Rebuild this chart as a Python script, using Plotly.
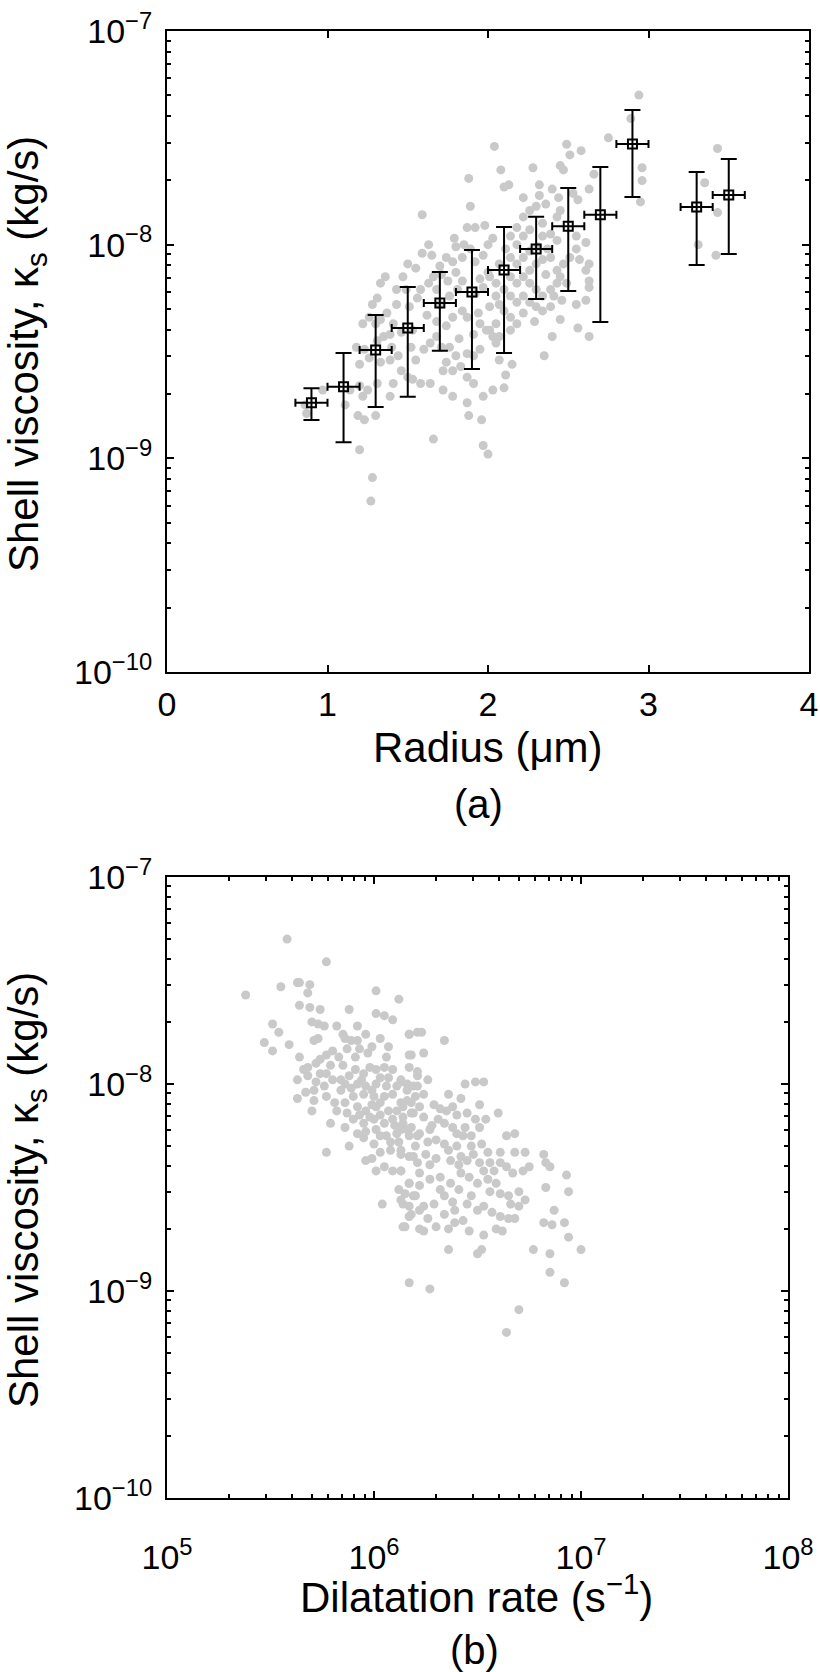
import numpy as np
import plotly.graph_objects as go

# ---- panel (a): shell viscosity vs radius ----
# radius in um, log10 of kappa_s expressed in units of 1e-9 kg/s
radius_a = [
    1.88, 1.89, 1.59, 1.87, 1.92, 1.98, 2.03, 1.79, 1.80, 1.63,
    1.59, 1.65, 1.74, 1.78, 1.84, 1.89, 1.50, 1.55, 1.36, 1.33,
    1.66, 1.63, 1.80, 1.84, 1.95, 2.00, 1.75, 1.68, 1.58, 1.56,
    1.43, 1.28, 1.31, 1.26, 1.22, 1.30, 1.33, 1.37, 1.41, 1.46,
    1.39, 1.35, 1.31, 1.18, 1.23, 1.26, 1.20, 1.33, 1.39, 1.44,
    1.46, 1.50, 1.53, 1.58, 1.64, 1.60, 1.64, 1.68, 1.74, 1.78,
    1.84, 1.87, 1.95, 1.99, 2.03, 2.05, 1.95, 1.91, 1.87, 1.80,
    1.74, 1.72, 1.78, 1.83, 1.87, 1.91, 1.72, 1.78, 1.87, 1.97,
    2.03, 1.41, 1.39, 1.31, 1.25, 1.20, 1.14, 1.22, 1.19, 1.23,
    1.30, 1.11, 0.87, 0.86, 0.97, 1.66, 1.97, 2.00, 1.20, 1.28,
    1.88, 1.96, 1.27,
    2.94, 2.89, 2.75, 2.04, 2.49, 2.58, 2.51, 2.45, 2.47, 2.08,
    2.28, 2.96, 2.96, 2.95, 2.13, 2.10, 2.22, 2.32, 2.40, 2.44,
    2.53, 2.56, 2.66, 2.63, 2.32, 2.36, 2.26, 2.30, 2.22, 2.18,
    2.14, 2.22, 2.26, 2.34, 2.43, 2.45, 2.39, 2.34, 2.43, 2.55,
    2.61, 2.55, 2.51, 2.57, 2.63, 2.61, 2.63, 2.63, 2.47, 2.43,
    2.39, 2.34, 2.30, 2.26, 2.22, 2.18, 2.14, 2.22, 2.18, 2.14,
    2.26, 2.30, 2.34, 2.39, 2.43, 2.45, 2.49, 2.46, 2.39, 2.34,
    2.30, 2.26, 2.22, 2.18, 2.14, 2.10, 2.05, 2.01, 2.05, 2.01,
    2.10, 2.14, 2.18, 2.05, 2.01, 2.07, 2.14, 2.45, 2.40, 2.56,
    2.63, 2.55, 2.61, 2.35, 2.07, 2.15, 2.11, 2.10,
    3.43, 3.35, 3.43, 3.31, 3.42,
    1.70, 1.70, 1.76, 1.81, 1.92, 1.97, 1.92, 1.97, 2.00, 1.85,
    1.71, 1.62, 1.68, 1.71, 1.76, 1.82, 1.91, 1.94, 2.07, 2.07,
    2.11, 2.18, 2.26, 2.31, 2.37, 2.36, 2.41, 2.29, 2.22, 1.53,
    1.51, 1.49, 1.43, 1.47, 1.40, 1.55, 1.52,
]
log_kappa_a = [
    1.31, 1.18, 1.14, 1.08, 1.08, 1.09, 1.03, 1.03, 0.99, 1.00,
    0.96, 0.95, 0.94, 0.92, 0.94, 0.98, 0.91, 0.89, 0.85, 0.82,
    0.85, 0.82, 0.87, 0.83, 0.84, 0.87, 0.83, 0.79, 0.79, 0.75,
    0.72, 0.72, 0.75, 0.66, 0.63, 0.63, 0.65, 0.68, 0.63, 0.59,
    0.58, 0.57, 0.55, 0.52, 0.51, 0.47, 0.44, 0.45, 0.46, 0.48,
    0.41, 0.38, 0.37, 0.35, 0.35, 0.51, 0.54, 0.57, 0.62, 0.66,
    0.69, 0.66, 0.63, 0.60, 0.57, 0.54, 0.51, 0.48, 0.49, 0.48,
    0.45, 0.41, 0.41, 0.43, 0.38, 0.35, 0.32, 0.29, 0.26, 0.29,
    0.32, 0.35, 0.29, 0.35, 0.32, 0.34, 0.32, 0.29, 0.20, 0.18,
    0.20, 0.25, 0.21, 0.25, 0.32, 0.09, 0.06, 0.02, 0.04, -0.09,
    0.20, 0.18, -0.20,
    1.70, 1.59, 1.50, 1.46, 1.47, 1.44, 1.42, 1.37, 1.35, 1.35,
    1.36, 1.36, 1.30, 1.20, 1.28, 1.27, 1.22, 1.28, 1.26, 1.22,
    1.24, 1.21, 1.33, 1.26, 1.23, 1.19, 1.16, 1.18, 1.13, 1.08,
    1.04, 1.04, 1.07, 1.10, 1.13, 1.16, 1.05, 1.04, 1.02, 1.04,
    1.01, 0.98, 0.94, 0.93, 0.91, 0.88, 0.83, 0.80, 0.91, 0.88,
    0.94, 0.93, 0.91, 0.88, 0.94, 0.91, 0.94, 0.85, 0.82, 0.85,
    0.82, 0.79, 0.76, 0.79, 0.82, 0.85, 0.82, 0.74, 0.71, 0.69,
    0.71, 0.73, 0.76, 0.73, 0.76, 0.79, 0.82, 0.85, 0.76, 0.71,
    0.69, 0.66, 0.63, 0.63, 0.60, 0.57, 0.60, 0.65, 0.57, 0.61,
    0.57, 0.72, 0.74, 0.48, 0.46, 0.44, 0.39, 0.33,
    1.45, 1.29, 1.15, 1.00, 0.95,
    0.90, 0.72, 0.76, 0.79, 0.77, 0.80, 0.92, 0.95, 1.00, 1.00,
    0.86, 0.67, 0.64, 0.52, 0.52, 0.56, 0.58, 0.68, 0.72, 0.91,
    0.98, 1.00, 0.97, 0.99, 0.98, 0.86, 0.76, 0.64, 0.68, 0.60,
    0.71, 0.79, 0.79, 0.85, 0.52, 0.46, 0.52,
]

# binned means with spread (units of 1e-9 kg/s), bin half-width 0.1 um
bin_radius = [0.9, 1.1, 1.3, 1.5, 1.7, 1.9, 2.1, 2.3, 2.5, 2.7, 2.9, 3.3, 3.5]
bin_kappa = [1.82, 2.16, 3.21, 4.07, 5.33, 6.01, 7.62, 9.55, 12.2, 13.8, 29.6, 15.0, 17.1]
bin_upper = [2.13, 3.11, 4.69, 6.34, 7.45, 9.44, 12.1, 13.5, 18.4, 23.1, 42.7, 21.9, 25.2]
bin_lower = [1.51, 1.19, 1.74, 1.94, 3.19, 2.62, 3.11, 5.57, 6.07, 4.35, 16.7, 8.04, 9.04]
bin_halfwidth = 0.1

# ---- panel (b): shell viscosity vs dilatation rate ----
# log10 of dilatation rate (1/s), log10 of kappa_s in units of 1e-9 kg/s
log_rate_b = [
    5.77, 5.38, 5.55, 5.63, 5.64, 5.69, 5.68, 5.64, 5.69, 5.74,
    5.88, 6.01, 6.12, 6.01, 6.05, 6.09, 5.70, 5.73, 5.76, 5.51,
    5.54, 5.47, 5.51, 5.59, 5.64, 5.71, 5.73, 5.82, 5.85, 5.86,
    5.92, 5.96, 5.92, 5.87, 5.91, 5.93, 5.97, 6.03, 6.07, 6.06,
    6.17, 6.17, 6.21, 5.68, 5.72, 5.74, 5.77, 5.79, 5.83, 5.66,
    5.63, 5.68, 5.72, 5.74, 5.80, 5.76, 5.71, 5.67, 5.63, 5.71,
    5.77, 5.81, 5.84, 5.86, 5.88, 5.91, 5.95, 5.98, 6.01, 6.05,
    6.09, 6.13, 6.16, 6.19, 6.17, 6.21, 5.92, 5.96, 6.01, 6.06,
    6.09, 6.05, 6.00, 5.95, 5.90, 5.86, 5.82, 5.87, 5.92, 5.96,
    6.01, 6.07, 6.13, 6.16, 6.20, 6.22, 6.18, 6.14, 6.09, 6.05,
    6.00, 5.95, 5.90, 5.79, 5.86, 5.92, 5.96, 6.01, 6.06, 6.11,
    6.16, 6.21, 5.88, 5.95, 6.00, 5.77, 5.96, 5.99, 6.03, 6.08,
    6.13, 6.17, 6.21, 6.01, 6.05, 6.09, 6.13, 6.12, 6.15, 6.17,
    6.19, 6.04, 6.14, 6.18, 6.15, 6.22, 6.17, 5.58,
    6.17, 6.23, 6.34, 6.18, 6.24, 6.21, 6.26, 6.13, 6.16, 6.21,
    6.24, 6.44, 6.49, 6.53, 6.36, 6.42, 6.51, 6.60, 6.29, 6.32,
    6.35, 6.40, 6.45, 6.49, 6.54, 6.14, 6.19, 6.24, 6.28, 6.34,
    6.38, 6.43, 6.47, 6.51, 6.13, 6.17, 6.22, 6.30, 6.34, 6.40,
    6.47, 6.52, 6.64, 6.68, 6.61, 6.68, 6.73, 6.82, 6.55, 6.13,
    6.19, 6.25, 6.30, 6.37, 6.42, 6.45, 6.51, 6.56, 6.61, 6.64,
    6.67, 6.72, 6.75, 6.83, 6.85, 6.93, 6.94, 6.83, 6.13, 6.17,
    6.22, 6.27, 6.32, 6.37, 6.42, 6.46, 6.50, 6.55, 6.59, 6.61,
    6.56, 6.65, 6.70, 6.73, 6.70, 6.66, 6.13, 6.17, 6.20, 6.24,
    6.29, 6.34, 6.38, 6.45, 6.50, 6.53, 6.57, 6.61, 6.65, 6.68,
    6.14, 6.17, 6.22, 6.26, 6.30, 6.24, 6.36, 6.39, 6.43, 6.46,
    6.53, 6.59, 6.62, 6.36, 6.50, 6.52, 6.27, 6.77, 6.85, 6.82,
    6.86, 6.92, 6.85, 6.92, 6.70, 6.64, 6.87, 6.94, 7.00,
    5.84, 5.89, 5.94, 5.99, 6.03, 6.07, 6.11, 5.99, 6.03, 6.11,
    6.18, 5.93, 5.98, 6.03, 6.10, 6.14, 6.18, 6.03, 6.08, 6.12,
    6.20, 6.26, 6.27, 6.31, 6.38, 6.40, 6.44, 6.36, 6.41, 6.48,
    6.27, 6.22, 6.32, 6.41, 6.47, 6.39, 6.34, 6.58, 6.53, 5.70,
    5.80, 5.89, 5.99, 5.77, 5.85,
]
log_kappa_b = [
    1.59, 1.43, 1.47, 1.49, 1.49, 1.48, 1.44, 1.38, 1.37, 1.36,
    1.36, 1.45, 1.41, 1.34, 1.33, 1.31, 1.30, 1.29, 1.28, 1.29,
    1.25, 1.20, 1.16, 1.19, 1.13, 1.21, 1.22, 1.28, 1.24, 1.22,
    1.28, 1.24, 1.21, 1.17, 1.13, 1.17, 1.15, 1.22, 1.18, 1.13,
    1.24, 1.14, 1.25, 1.08, 1.10, 1.12, 1.14, 1.09, 1.13, 1.07,
    1.02, 1.04, 1.01, 1.05, 1.02, 0.99, 0.97, 0.96, 0.93, 0.92,
    0.94, 0.91, 0.97, 1.00, 1.04, 1.07, 1.05, 1.08, 1.07, 1.08,
    1.07, 1.02, 1.00, 0.99, 1.08, 1.04, 1.00, 0.99, 1.00, 0.99,
    0.95, 0.94, 0.94, 0.95, 0.94, 0.91, 0.87, 0.86, 0.89, 0.87,
    0.89, 0.87, 0.91, 0.92, 0.94, 0.89, 0.86, 0.84, 0.83, 0.81,
    0.83, 0.81, 0.83, 0.81, 0.79, 0.76, 0.77, 0.78, 0.75, 0.76,
    0.78, 0.75, 0.70, 0.74, 0.71, 0.67, 0.63, 0.64, 0.67, 0.68,
    0.68, 0.65, 0.62, 0.58, 0.60, 0.58, 0.58, 0.49, 0.47, 0.52,
    0.46, 0.42, 0.42, 0.37, 0.31, 0.30, 0.04, 1.70,
    1.24, 1.25, 1.21, 1.14, 1.15, 1.06, 1.02, 1.01, 0.97, 0.99,
    0.95, 1.00, 1.01, 1.01, 0.95, 0.93, 0.90, 0.86, 0.90, 0.88,
    0.87, 0.85, 0.86, 0.83, 0.83, 0.89, 0.86, 0.84, 0.80, 0.81,
    0.79, 0.75, 0.75, 0.79, 0.78, 0.75, 0.76, 0.73, 0.71, 0.70,
    0.70, 0.71, 0.75, 0.76, 0.67, 0.67, 0.67, 0.66, 0.67, 0.66,
    0.65, 0.66, 0.64, 0.63, 0.65, 0.63, 0.62, 0.62, 0.62, 0.60,
    0.57, 0.58, 0.60, 0.62, 0.60, 0.56, 0.48, 0.50, 0.58, 0.52,
    0.57, 0.54, 0.55, 0.52, 0.57, 0.55, 0.52, 0.54, 0.52, 0.47,
    0.48, 0.46, 0.48, 0.44, 0.41, 0.42, 0.44, 0.41, 0.46, 0.41,
    0.42, 0.46, 0.43, 0.42, 0.39, 0.41, 0.38, 0.36, 0.35, 0.35,
    0.31, 0.36, 0.39, 0.35, 0.31, 0.29, 0.30, 0.33, 0.34, 0.29,
    0.27, 0.30, 0.29, 0.20, 0.18, 0.20, 0.01, 0.20, 0.18, 0.33,
    0.32, 0.33, 0.09, 0.04, -0.09, -0.20, 0.39, 0.26, 0.20,
    1.02, 0.98, 1.02, 0.97, 1.03, 1.03, 0.99, 0.90, 0.91, 0.87,
    0.91, 0.85, 0.84, 0.85, 0.80, 0.81, 0.79, 0.75, 0.72, 0.72,
    0.70, 0.72, 0.78, 0.83, 0.89, 0.76, 0.79, 0.68, 0.61, 0.66,
    0.61, 0.51, 0.49, 0.49, 0.46, 0.39, 0.37, 0.58, 0.58, 0.87,
    1.16, 1.21, 1.18, 1.05, 1.09,
]

kappa_ticks = [1e-10, 1e-9, 1e-8, 1e-7]
kappa_ticktext = ["10<sup>\u221210</sup>", "10<sup>\u22129</sup>", "10<sup>\u22128</sup>", "10<sup>\u22127</sup>"]
radius_ticks = [0, 1, 2, 3, 4]
rate_ticks = [1e5, 1e6, 1e7, 1e8]
rate_ticktext = ["10<sup>5</sup>", "10<sup>6</sup>", "10<sup>7</sup>", "10<sup>8</sup>"]

FONT = "Liberation Sans, Arial, Helvetica, sans-serif"
GREY = "#c9c9c9"
W, H = 820, 1672

def minor_vals(lo, hi):
    return [m * 10.0 ** e for e in range(lo, hi) for m in range(2, 10)]

fig = go.Figure()

fig.add_trace(go.Scatter(
    x=radius_a, y=10 ** (np.array(log_kappa_a) - 9), mode="markers",
    marker=dict(color=GREY, size=9, line=dict(width=0)),
    xaxis="x", yaxis="y", showlegend=False))

k = np.array(bin_kappa)
fig.add_trace(go.Scatter(
    x=bin_radius, y=k * 1e-9, mode="markers",
    marker=dict(symbol="square-open", size=9, color="black", line=dict(width=2, color="black")),
    error_y=dict(type="data", symmetric=False, array=(np.array(bin_upper) - k) * 1e-9,
                 arrayminus=(k - np.array(bin_lower)) * 1e-9, color="black", thickness=2, width=8),
    error_x=dict(type="constant", value=bin_halfwidth, color="black", thickness=2, width=4),
    xaxis="x", yaxis="y", showlegend=False))

fig.add_trace(go.Scatter(
    x=10 ** np.array(log_rate_b), y=10 ** (np.array(log_kappa_b) - 9), mode="markers",
    marker=dict(color=GREY, size=9, line=dict(width=0)),
    xaxis="x2", yaxis="y2", showlegend=False))

axis_style = dict(showline=True, linecolor="black", linewidth=2, mirror="allticks",
                  ticks="inside", ticklen=7, tickwidth=2, tickcolor="black",
                  showgrid=False, zeroline=False, automargin=False,
                  tickfont=dict(family=FONT, size=34, color="black"))
minor_style = dict(ticks="inside", ticklen=4, tickwidth=1.5, tickcolor="black", showgrid=False)

fig.update_layout(
    template="none",
    width=W, height=H, margin=dict(l=0, r=0, t=0, b=0, autoexpand=False),
    paper_bgcolor="white", plot_bgcolor="white", showlegend=False,
    xaxis=dict(axis_style, domain=[167 / W, 809 / W], anchor="y", range=[0, 4],
               tickmode="array", tickvals=radius_ticks, ticklabelstandoff=1),
    yaxis=dict(axis_style, domain=[1 - 672 / H, 1 - 31 / H], anchor="x", type="log",
               range=[-10, -7], tickmode="array", tickvals=kappa_ticks, ticktext=kappa_ticktext,
               ticklabelstandoff=6,
               minor=dict(minor_style, tickmode="array", tickvals=minor_vals(-10, -7))),
    xaxis2=dict(axis_style, domain=[167 / W, 788 / W], anchor="y2", type="log", range=[5, 8],
                tickmode="array", tickvals=rate_ticks, ticktext=rate_ticktext, ticklabelstandoff=28,
                minor=dict(minor_style, tickmode="array", tickvals=minor_vals(5, 8))),
    yaxis2=dict(axis_style, domain=[1 - 1498 / H, 1 - 877 / H], anchor="x2", type="log",
                range=[-10, -7], tickmode="array", tickvals=kappa_ticks, ticktext=kappa_ticktext,
                ticklabelstandoff=6,
                minor=dict(minor_style, tickmode="array", tickvals=minor_vals(-10, -7))),
)

def label(text, x, y, size, angle=0):
    fig.add_annotation(text=text, x=x / W, y=1 - y / H, xref="paper", yref="paper",
                       showarrow=False, textangle=angle, xanchor="center", yanchor="middle",
                       font=dict(family=FONT, size=size, color="black"))

label("Shell viscosity, \u03ba<sub>s</sub> (kg/s)", 26, 354, 42, -90)
label("Radius (\u03bcm)", 488, 747, 42)
label("(a)", 479, 804, 40)
label("Shell viscosity, \u03ba<sub>s</sub> (kg/s)", 26, 1190, 42, -90)
label("Dilatation rate (s<sup>\u22121</sup>)", 477, 1594, 42)
label("(b)", 475, 1650, 40)

# the page's default body margin would push the figure off the window
fig.write_html("out.html", config={"displayModeBar": False},
               post_script="document.body.style.margin='0';")
